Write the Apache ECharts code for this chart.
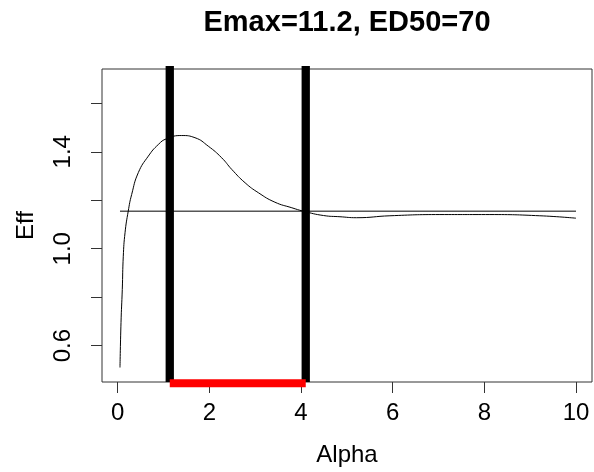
<!DOCTYPE html>
<html>
<head>
<meta charset="utf-8">
<script src="https://cdn.jsdelivr.net/npm/echarts@6/dist/echarts.min.js"></script>
<style>
html,body{margin:0;padding:0;background:#fff;}
#chart{width:594px;height:472px;}
</style>
</head>
<body>
<div id="chart"></div>
<script>
// ---- data ----
var curveX = [0.05, 0.072, 0.10, 0.122, 0.16, 0.23, 0.305, 0.45, 0.668, 0.886, 1.069, 1.396, 1.686, 1.977, 2.27, 2.49, 2.78, 3.07, 3.43, 3.80, 4.05, 4.49, 4.85, 5.21, 5.94, 7.03, 8.12, 9.21, 10.0];
var curveY = [0.51, 0.695, 0.832, 0.969, 1.066, 1.155, 1.224, 1.314, 1.382, 1.430, 1.454, 1.467, 1.458, 1.423, 1.375, 1.327, 1.272, 1.231, 1.192, 1.169, 1.155, 1.137, 1.132, 1.128, 1.136, 1.141, 1.141, 1.136, 1.126];
var refLevel = 1.155;
var refRange = [0.05, 10];
var bounds = [1.136, 4.103];
var xTicks = [0, 2, 4, 6, 8, 10];
var yTicks = [0.6, 0.8, 1.0, 1.2, 1.4, 1.6];
var yLabels = [0.6, 1.0, 1.4];
var titleText = 'Emax=11.2, ED50=70';

var xMin = -0.3426, xMax = 10.349;
var yMin = 0.4502, yMax = 1.7415;
var barTop = 1.754, redY = 0.445;

var FONT = '"Liberation Sans", Arial, Helvetica, sans-serif';

var curveData = curveX.map(function (x, i) { return [x, curveY[i]]; });

var chart = echarts.init(document.getElementById('chart'), null, {renderer: 'canvas'});
chart.setOption({
  animation: false,
  backgroundColor: '#fff',
  title: {
    text: titleText,
    left: 347,
    top: 8,
    textAlign: 'center',
    padding: 0,
    textStyle: {fontSize: 29, fontWeight: 'bold', fontFamily: FONT, color: '#000'}
  },
  grid: {
    left: 102, right: 2, top: 69, bottom: 90,
    show: true, borderColor: '#333', borderWidth: 1, backgroundColor: 'transparent'
  },
  xAxis: {
    type: 'value', min: xMin, max: xMax,
    axisLine: {show: false, onZero: false},
    splitLine: {show: false},
    axisTick: {show: true, length: 11, customValues: xTicks, lineStyle: {color: '#333', width: 1}},
    axisLabel: {customValues: xTicks, fontSize: 24, color: '#000', fontFamily: FONT, margin: 19,
      formatter: function (v) { return String(Math.round(v)); }},
    name: 'Alpha', nameLocation: 'middle', nameGap: 61,
    nameTextStyle: {fontSize: 24, color: '#000', fontFamily: FONT}
  },
  yAxis: {
    type: 'value', min: yMin, max: yMax,
    axisLine: {show: false, onZero: false},
    splitLine: {show: false},
    axisTick: {show: true, length: 11, customValues: yTicks, lineStyle: {color: '#333', width: 1}},
    axisLabel: {customValues: yLabels, fontSize: 24, color: '#000', fontFamily: FONT, margin: 27, rotate: 90,
      formatter: function (v) { return v.toFixed(1); }},
    name: 'Eff', nameLocation: 'middle', nameGap: 64, nameRotate: 90,
    nameTextStyle: {fontSize: 24, color: '#000', fontFamily: FONT}
  },
  series: [
    {
      type: 'line', name: 'Eff', data: curveData, smooth: 0.5, showSymbol: false,
      lineStyle: {color: '#000', width: 1}
    },
    {
      type: 'line', name: 'ref', data: [[refRange[0], refLevel], [refRange[1], refLevel]],
      showSymbol: false, lineStyle: {color: '#000', width: 1}
    },
    {
      type: 'line', name: 'lo', data: [[bounds[0], yMin], [bounds[0], barTop]], clip: false,
      showSymbol: false, lineStyle: {color: '#000', width: 8.3, cap: 'butt'}
    },
    {
      type: 'line', name: 'hi', data: [[bounds[1], yMin], [bounds[1], barTop]], clip: false,
      showSymbol: false, lineStyle: {color: '#000', width: 8.3, cap: 'butt'}
    },
    {
      type: 'line', name: 'range', data: [[bounds[0], redY], [bounds[1], redY]], clip: false,
      showSymbol: false, lineStyle: {color: '#ff0000', width: 8, cap: 'butt'}
    }
  ]
});
</script>
</body>
</html>
